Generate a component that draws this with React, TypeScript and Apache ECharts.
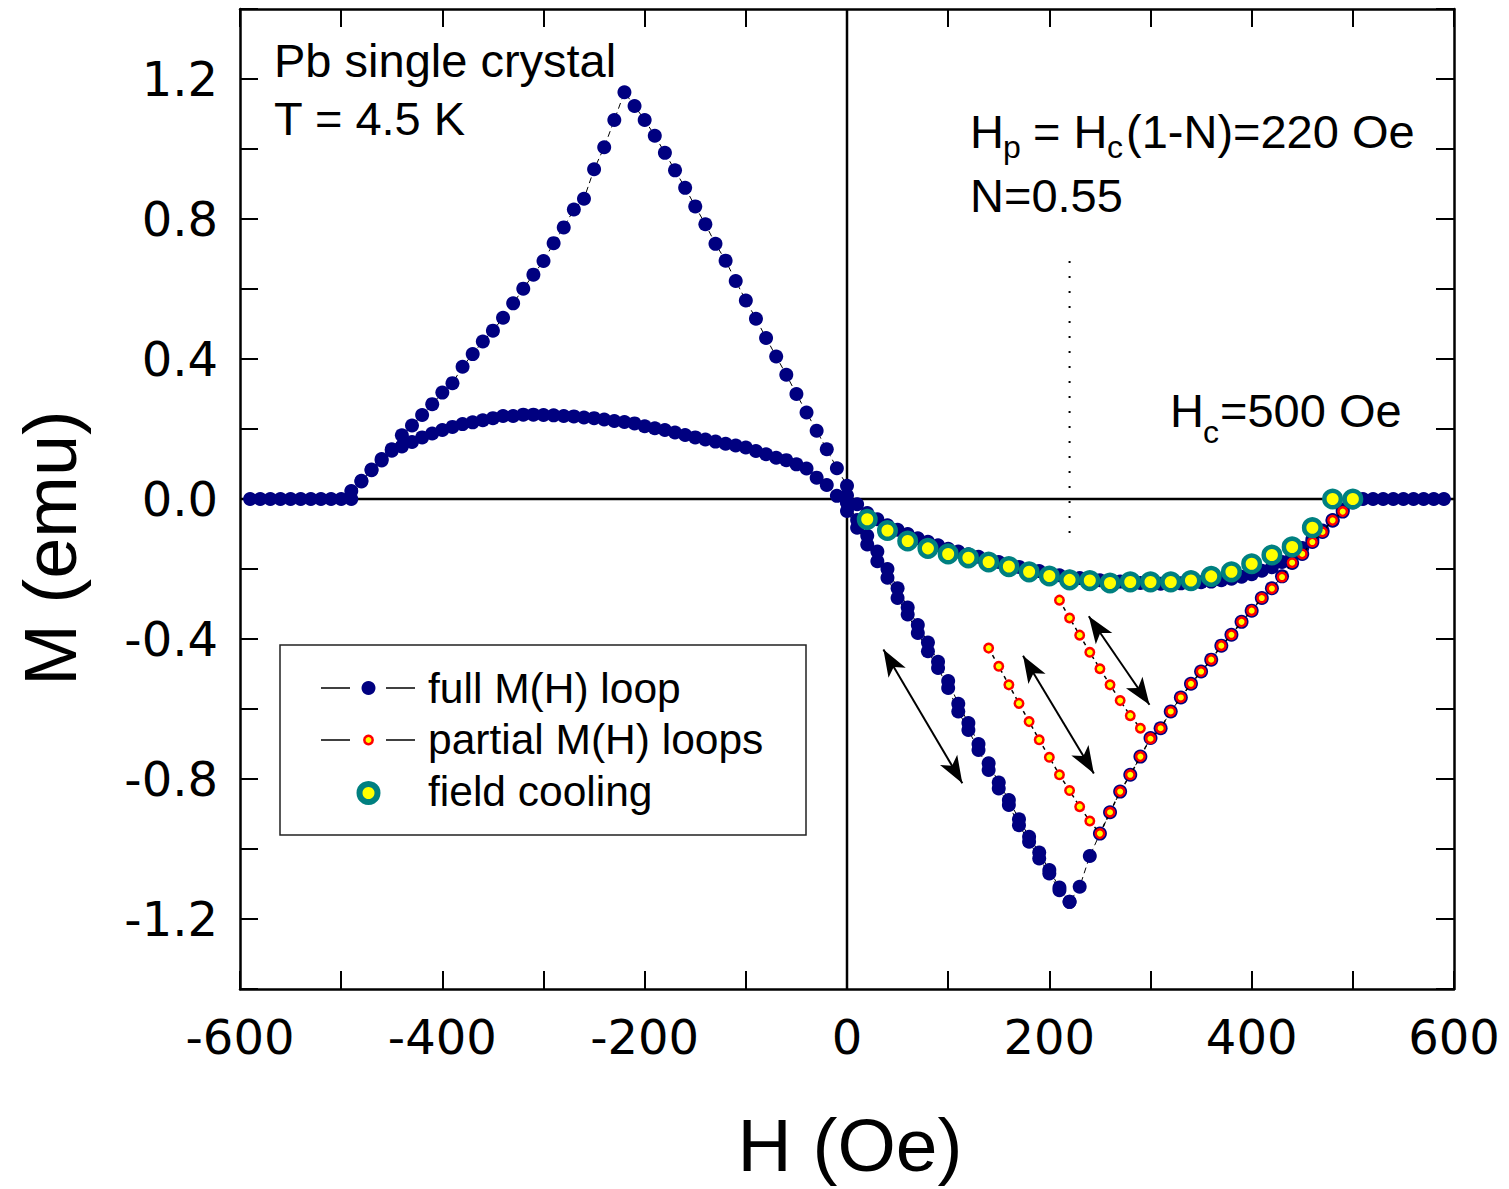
import React, { useEffect, useRef } from "react";
import * as echarts from "echarts";

// ---------- data (H in Oe, M in emu) ----------
// full M(H) loop, in measurement order
const virginBranch: [number, number][] = [
  [0, -0.01], [10, -0.06], [20, -0.105], [30, -0.15], [40, -0.2], [50, -0.255], [60, -0.31],
  [70, -0.36], [80, -0.41], [90, -0.465], [100, -0.52], [110, -0.585], [120, -0.64], [130, -0.7],
  [140, -0.755], [150, -0.81], [160, -0.86], [170, -0.915], [180, -0.965], [190, -1.01], [200, -1.06],
  [210, -1.11],
];
const mixedUpPos: [number, number][] = [
  [220, -1.151], [230, -1.108], [240, -1.02], [250, -0.956], [260, -0.895], [270, -0.836],
  [280, -0.788], [290, -0.736], [300, -0.683], [310, -0.655], [320, -0.607], [330, -0.567],
  [340, -0.528], [350, -0.493], [360, -0.459], [370, -0.419], [380, -0.388], [390, -0.351],
  [400, -0.319], [410, -0.283], [420, -0.255], [430, -0.221], [440, -0.183], [450, -0.157],
  [460, -0.123], [470, -0.094], [480, -0.062], [490, -0.036], [500, -0.01],
];
const normalPos: [number, number][] = [
  [510, 0], [520, 0], [530, 0], [540, 0], [550, 0], [560, 0], [570, 0], [580, 0], [590, 0],
];
const returnPos: [number, number][] = [
  [500, 0], [490, -0.03], [480, -0.06], [470, -0.09], [460, -0.115], [450, -0.14], [440, -0.16],
  [430, -0.18], [420, -0.195], [410, -0.205], [400, -0.215], [390, -0.222], [380, -0.228],
  [370, -0.232], [360, -0.236], [350, -0.238], [340, -0.24], [330, -0.241], [320, -0.242],
  [310, -0.242], [300, -0.241], [290, -0.24], [280, -0.238], [270, -0.236], [260, -0.234],
  [250, -0.232], [240, -0.229], [230, -0.226], [220, -0.222], [210, -0.218], [200, -0.212],
  [190, -0.206], [180, -0.2], [170, -0.194], [160, -0.187], [150, -0.18], [140, -0.172],
  [130, -0.165], [120, -0.158], [110, -0.15], [100, -0.142], [90, -0.132], [80, -0.122],
  [70, -0.112], [60, -0.1], [50, -0.088], [40, -0.075], [30, -0.058], [20, -0.04], [10, -0.015],
  [0, 0.01],
];
const meissnerNeg: [number, number][] = [
  [0, 0.038], [-10, 0.088], [-20, 0.142], [-30, 0.195], [-40, 0.247], [-50, 0.3], [-60, 0.355],
  [-70, 0.407], [-80, 0.46], [-90, 0.515], [-100, 0.567], [-110, 0.623], [-120, 0.681],
  [-130, 0.729], [-140, 0.785], [-150, 0.836], [-160, 0.889], [-170, 0.939], [-180, 0.989],
  [-190, 1.038], [-200, 1.083], [-210, 1.123], [-220, 1.162],
];
const mixedDownNeg: [number, number][] = [
  [-230, 1.083], [-240, 1.005], [-250, 0.942], [-260, 0.858], [-270, 0.827], [-280, 0.776],
  [-290, 0.731], [-300, 0.68], [-310, 0.641], [-320, 0.601], [-330, 0.559], [-340, 0.518],
  [-350, 0.481], [-360, 0.45], [-370, 0.414], [-380, 0.378], [-390, 0.331], [-400, 0.304],
  [-410, 0.271], [-420, 0.24], [-430, 0.21], [-440, 0.182], [-450, 0.142], [-460, 0.114],
  [-470, 0.084], [-480, 0.052], [-490, 0.023],
];
const normalNeg: [number, number][] = [
  [-500, 0], [-510, 0], [-520, 0], [-530, 0], [-540, 0], [-550, 0], [-560, 0], [-570, 0],
  [-580, 0], [-590, 0],
];
const returnNeg: [number, number][] = [
  [-490, 0], [-480, 0.05], [-470, 0.082], [-460, 0.11], [-450, 0.138], [-440, 0.15], [-430, 0.163],
  [-420, 0.176], [-410, 0.187], [-400, 0.197], [-390, 0.206], [-380, 0.214], [-370, 0.219],
  [-360, 0.225], [-350, 0.231], [-340, 0.237], [-330, 0.237], [-320, 0.241], [-310, 0.241],
  [-300, 0.24], [-290, 0.239], [-280, 0.237], [-270, 0.236], [-260, 0.233], [-250, 0.231],
  [-240, 0.227], [-230, 0.223], [-220, 0.22], [-210, 0.216], [-200, 0.208], [-190, 0.202],
  [-180, 0.197], [-170, 0.19], [-160, 0.183], [-150, 0.176], [-140, 0.17], [-130, 0.164],
  [-120, 0.158], [-110, 0.153], [-100, 0.147], [-90, 0.137], [-80, 0.128], [-70, 0.118],
  [-60, 0.111], [-50, 0.099], [-40, 0.087], [-30, 0.061], [-20, 0.04], [-10, 0.009], [0, -0.01],
];
const meissnerPos: [number, number][] = [
  [0, -0.034], [10, -0.082], [20, -0.13], [30, -0.178], [40, -0.225], [50, -0.283], [60, -0.33],
  [70, -0.383], [80, -0.435], [90, -0.483], [100, -0.54], [110, -0.607], [120, -0.66],
  [130, -0.717], [140, -0.774], [150, -0.827], [160, -0.874], [170, -0.932], [180, -0.979],
  [190, -1.027], [200, -1.07], [210, -1.118], [220, -1.151],
];

// partial M(H) loops
const partialLoop1: [number, number][] = [
  [140, -0.426], [150, -0.478], [160, -0.531], [170, -0.584], [180, -0.636], [190, -0.688],
  [200, -0.738], [210, -0.788], [220, -0.833], [230, -0.879], [240, -0.92], [250, -0.956],
  [260, -0.895], [270, -0.836], [280, -0.788], [290, -0.736], [300, -0.683], [310, -0.655],
  [320, -0.607], [330, -0.567], [340, -0.528], [350, -0.493], [360, -0.459], [370, -0.419],
  [380, -0.388], [390, -0.351], [400, -0.319], [410, -0.283], [420, -0.256], [430, -0.223],
  [440, -0.182], [450, -0.157], [460, -0.123], [470, -0.094], [480, -0.061], [490, -0.036],
];
const partialLoop2: [number, number][] = [
  [210, -0.289], [220, -0.34], [230, -0.389], [240, -0.438], [250, -0.485], [260, -0.531],
  [270, -0.576], [280, -0.619], [290, -0.655], [300, -0.685],
];

// field cooling
const fieldCooling: [number, number][] = [
  [20, -0.058], [40, -0.09], [60, -0.12], [80, -0.141], [100, -0.157], [120, -0.168],
  [140, -0.18], [160, -0.193], [180, -0.208], [200, -0.22], [220, -0.231], [240, -0.233],
  [260, -0.24], [280, -0.237], [300, -0.237], [320, -0.237], [340, -0.233], [360, -0.221],
  [380, -0.208], [400, -0.185], [420, -0.16], [440, -0.137], [460, -0.082], [480, 0], [500, 0],
];

// reversible-direction arrows (start, end)
const arrows: [number, number][][] = [
  [[36, -0.43], [114, -0.812]],
  [[174, -0.448], [244, -0.784]],
  [[239, -0.335], [299, -0.588]],
];
const hpMarker: [number, number][] = [[220, 0.68], [220, -0.1]];

const xTickLabels = [-600, -400, -200, 0, 200, 400, 600];
const yTickLabels = [-1.2, -0.8, -0.4, 0, 0.4, 0.8, 1.2];

const fullLoop = [
  ...virginBranch, ...mixedUpPos, ...normalPos, ...returnPos, ...meissnerNeg,
  ...mixedDownNeg, ...normalNeg, ...returnNeg, ...meissnerPos,
];

const NAVY = "#000080";
const TEAL = "#008080";
const YELLOW = "#ffff00";
const RED = "#ff0000";
const ARIAL = "'Liberation Sans', Arial, Helvetica, sans-serif";
const TICKFONT = "'DejaVu Sans', 'Liberation Sans', Arial, sans-serif";

const txt = (text: string, x: number, y: number, fontSize: number, extra: any = {}) => ({
  type: "text",
  x,
  y,
  z: 100,
  ...extra,
  style: {
    text,
    fontSize,
    fontFamily: ARIAL,
    fill: "#000",
    align: "left",
    verticalAlign: "middle",
    ...(extra.style || {}),
  },
});

export default function App() {
  const ref = useRef<HTMLDivElement>(null);
  useEffect(() => {
    if (!ref.current) return;
    const chart = echarts.init(ref.current, null, { renderer: "svg" });
    const axisCommon = {
      type: "value",
      axisLine: { show: true, onZero: false, lineStyle: { color: "#000", width: 2.5 } },
      axisTick: { show: true, inside: true, length: 18, lineStyle: { color: "#000", width: 2 } },
      splitLine: { show: false },
    };
    const option: any = {
      animation: false,
      backgroundColor: "#fff",
      grid: { left: 240, right: 55, top: 9, bottom: 200 },
      xAxis: [
        {
          ...axisCommon,
          min: -600,
          max: 600,
          interval: 100,
          position: "bottom",
          axisLabel: {
            margin: 24,
            fontSize: 48,
            fontFamily: TICKFONT,
            color: "#000",
            formatter: (v: number) => (xTickLabels.includes(Math.round(v)) ? String(Math.round(v)) : ""),
          },
        },
        {
          ...axisCommon,
          min: -600,
          max: 600,
          interval: 100,
          position: "top",
          axisLabel: { show: false },
        },
      ],
      yAxis: [
        {
          ...axisCommon,
          min: -1.4,
          max: 1.4,
          interval: 0.2,
          position: "left",
          axisLabel: {
            margin: 22,
            fontSize: 48,
            fontFamily: TICKFONT,
            color: "#000",
            formatter: (v: number) => {
              const k = Math.round(v * 10);
              return yTickLabels.some((t) => Math.round(t * 10) === k) ? (k / 10).toFixed(1) : "";
            },
          },
        },
        {
          ...axisCommon,
          min: -1.4,
          max: 1.4,
          interval: 0.2,
          position: "right",
          axisLabel: { show: false },
        },
      ],
      series: [
        {
          type: "line",
          data: [[-600, 0], [600, 0]],
          symbol: "none",
          lineStyle: { color: "#000", width: 2.5 },
          z: 1,
          silent: true,
        },
        {
          type: "line",
          data: [[0, -1.4], [0, 1.4]],
          symbol: "none",
          lineStyle: { color: "#000", width: 2.5 },
          z: 1,
          silent: true,
        },
        {
          type: "line",
          data: hpMarker,
          symbol: "none",
          lineStyle: { color: "#000", width: 2, type: [2, 13] },
          z: 1,
          silent: true,
        },
        {
          name: "full M(H) loop",
          type: "line",
          data: fullLoop,
          symbol: "circle",
          symbolSize: 14,
          itemStyle: { color: NAVY },
          lineStyle: { color: "#000", width: 1, type: [6, 4] },
          z: 2,
        },
        {
          name: "partial M(H) loops",
          type: "line",
          data: partialLoop1,
          symbol: "circle",
          symbolSize: 8.5,
          itemStyle: { color: YELLOW, borderColor: RED, borderWidth: 2.5 },
          lineStyle: { color: "#000", width: 1.5, type: [4, 4] },
          z: 3,
        },
        {
          name: "partial M(H) loops",
          type: "line",
          data: partialLoop2,
          symbol: "circle",
          symbolSize: 8.5,
          itemStyle: { color: YELLOW, borderColor: RED, borderWidth: 2.5 },
          lineStyle: { color: "#000", width: 1.5, type: [4, 4] },
          z: 3,
        },
        {
          name: "field cooling",
          type: "scatter",
          data: fieldCooling,
          symbol: "circle",
          symbolSize: 16.5,
          itemStyle: { color: YELLOW, borderColor: TEAL, borderWidth: 4.5, opacity: 1 },
          z: 4,
        },
        {
          type: "line",
          data: [],
          z: 5,
          markLine: {
            silent: true,
            symbol: ["arrow", "arrow"],
            symbolSize: [15, 27],
            label: { show: false },
            lineStyle: { color: "#000", width: 2, type: "solid" },
            data: arrows.map((a) => [{ coord: a[0] }, { coord: a[1] }]),
          },
        },
      ],
      graphic: [
        txt("Pb single crystal", 274, 60, 47),
        txt("T = 4.5 K", 274, 118, 47),
        txt("H", 970, 131, 47),
        txt("p", 1003, 147, 32),
        txt(" = H", 1020, 131, 47),
        txt("c", 1107, 147, 32),
        txt("(1-N)=220 Oe", 1126, 131, 47),
        txt("N=0.55", 970, 195, 47),
        txt("H", 1170, 410, 47),
        txt("c", 1203, 432, 32),
        txt("=500 Oe", 1220, 410, 47),
        txt("M (emu)", 50, 548, 74, { rotation: Math.PI / 2, style: { align: "center" } }),
        txt("H (Oe)", 850, 1145, 75, { style: { align: "center" } }),
        {
          type: "rect",
          z: 90,
          shape: { x: 280, y: 645, width: 526, height: 190 },
          style: { fill: "#fff", stroke: "#222", lineWidth: 1.5 },
        },
        { type: "line", z: 95, shape: { x1: 321, y1: 688, x2: 350, y2: 688 }, style: { stroke: "#000", lineWidth: 1.5 } },
        { type: "circle", z: 96, shape: { cx: 368.5, cy: 688, r: 7 }, style: { fill: NAVY } },
        { type: "line", z: 95, shape: { x1: 386, y1: 688, x2: 415, y2: 688 }, style: { stroke: "#000", lineWidth: 1.5 } },
        txt("full M(H) loop", 428, 688, 42.5),
        { type: "line", z: 95, shape: { x1: 321, y1: 740, x2: 350, y2: 740 }, style: { stroke: "#000", lineWidth: 1.5 } },
        { type: "circle", z: 96, shape: { cx: 368.5, cy: 740, r: 4.2 }, style: { fill: YELLOW, stroke: RED, lineWidth: 2.5 } },
        { type: "line", z: 95, shape: { x1: 386, y1: 740, x2: 415, y2: 740 }, style: { stroke: "#000", lineWidth: 1.5 } },
        txt("partial M(H) loops", 428, 739, 42.5),
        { type: "circle", z: 96, shape: { cx: 368.5, cy: 793, r: 9 }, style: { fill: YELLOW, stroke: TEAL, lineWidth: 6 } },
        txt("field cooling", 428, 791, 42.5),
      ],
    };
    chart.setOption(option);
    return () => chart.dispose();
  }, []);
  return (
    <div
      ref={ref}
      style={{ position: "fixed", left: 0, top: 0, width: 1509, height: 1189, background: "#fff" }}
    />
  );
}
